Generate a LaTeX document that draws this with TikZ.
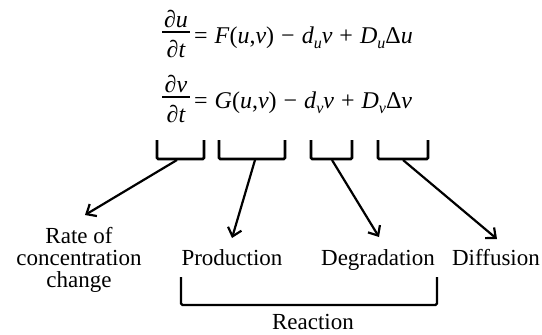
\documentclass[tikz,border=0pt]{standalone}
\usepackage{fontspec}
\setmainfont{Liberation Serif}
\usetikzlibrary{arrows.meta}
\newcommand{\iv}[1]{\textit{#1}}
\newcommand{\mysub}[1]{\raisebox{-5pt}{\fontsize{16}{16}\selectfont\itshape #1}}
\newcommand{\eqsp}{\hspace{7pt}}
\tikzset{
  brk/.style={line width=2.6pt, rounded corners=1.2pt},
  arr/.style={line width=2.2pt, -{Straight Barb[length=8pt,width=14pt,line width=2.2pt]}},
  lbl/.style={font=\fontsize{23}{22}\selectfont, inner sep=0pt},
  eqf/.style={font=\fontsize{24}{26}\selectfont\itshape, inner sep=0pt, anchor=base},
  eq/.style={font=\fontsize{24}{26}\selectfont, inner sep=0pt, anchor=base west},
  bar/.style={line width=1.3pt},
}
\begin{document}
\begin{tikzpicture}[x=1pt,y=-1pt]
\useasboundingbox (0,0) rectangle (542,335);
% equation 1
\node[eqf] (n1) at (176,27) {∂u};
\node[eqf] (d1) at (176,57) {∂t};
\coordinate (b1l) at (162,32);
\coordinate (b1r) at (190,32);
\draw[bar] (b1l) -- (b1r);
\node[eq] (e1) at (194,43) {=\eqsp\iv{F}(\iv{u},\iv{v})\eqsp−\eqsp\iv{d}\mysub{u}\iv{v}\eqsp+\eqsp\iv{D}\mysub{u}Δ\iv{u}};
% equation 2
\node[eqf] (n2) at (176,92) {∂v};
\node[eqf] (d2) at (176,122) {∂t};
\coordinate (b2l) at (162,97);
\coordinate (b2r) at (190,97);
\draw[bar] (b2l) -- (b2r);
\node[eq] (e2) at (194,108) {=\eqsp\iv{G}(\iv{u},\iv{v})\eqsp−\eqsp\iv{d}\mysub{v}\iv{v}\eqsp+\eqsp\iv{D}\mysub{v}Δ\iv{v}};
% brackets under terms
\draw[brk] (157,140) -- (157,159) -- (204,159) -- (204,140);
\draw[brk] (219,140) -- (219,159) -- (285,159) -- (285,140);
\draw[brk] (311,140) -- (311,159) -- (352,159) -- (352,140);
\draw[brk] (378,140) -- (378,159) -- (428,159) -- (428,140);
\coordinate (s1) at (177,160);
\coordinate (s2) at (255,160);
\coordinate (s3) at (332,160);
\coordinate (s4) at (403,160);
\coordinate (t1) at (85,215);
\coordinate (t2) at (232,238);
\coordinate (t3) at (379,237);
\coordinate (t4) at (497,239);
\draw[arr] (s1) -- (t1);
\draw[arr] (s2) -- (t2);
\draw[arr] (s3) -- (t3);
\draw[arr] (s4) -- (t4);
% labels
\node[lbl, align=center, anchor=north] (rate) at (79,227) {Rate of\\concentration\\change};
\node[lbl, anchor=base] (prod) at (232,265) {Production};
\node[lbl, anchor=base] (degr) at (378,265) {Degradation};
\node[lbl, anchor=base] (diff) at (496,265) {Diffusion};
% reaction bracket
\draw[line width=2.4pt, rounded corners=1.5pt] (181,277) -- (181,305) -- (437,305) -- (437,277);
\node[lbl, anchor=base] (reac) at (313,329) {Reaction};
\end{tikzpicture}
\end{document}
